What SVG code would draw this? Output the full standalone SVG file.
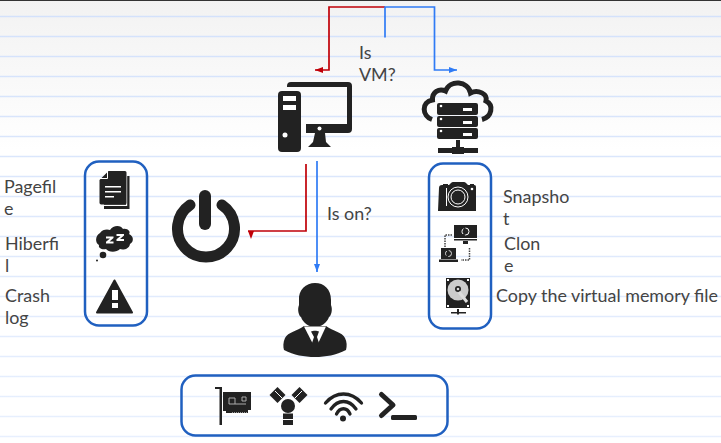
<svg xmlns="http://www.w3.org/2000/svg" width="721" height="443" viewBox="0 0 721 443">
<style>
text{font-family:"Lato","Carlito","Liberation Sans",sans-serif;font-size:17.900px;fill:#444}
.rule{stroke:url(#rg);stroke-width:1.500}
.box{fill:none;stroke:#2060c0;stroke-width:2.500}
.i{fill:#222}
.w{fill:#fff}
.ln{fill:none;stroke-width:1.700}
.r{stroke:#c00008}
.b{stroke:#2f7bf5}
</style>
<defs>
<linearGradient id="bg" x1="0" y1="0" x2="0" y2="1"><stop offset="0" stop-color="#f2f2f2"/><stop offset="1" stop-color="#fff"/></linearGradient>
<linearGradient id="rg" gradientUnits="userSpaceOnUse" x1="0" y1="0" x2="0" y2="443"><stop offset="0" stop-color="#d3e1fb"/><stop offset="1" stop-color="#e8f0fe"/></linearGradient>
<marker id="ar" markerWidth="8" markerHeight="6" refX="8" refY="3" orient="auto" markerUnits="userSpaceOnUse"><path d="M0 0L8 3L0 6Z" fill="#c00008"/></marker>
<marker id="ard" markerWidth="8" markerHeight="6" refX="0" refY="6" orient="90" markerUnits="userSpaceOnUse"><path d="M0 0L8 3L0 6Z" fill="#c00008"/></marker>
<marker id="ab" markerWidth="8" markerHeight="6" refX="8" refY="3" orient="auto" markerUnits="userSpaceOnUse"><path d="M0 0L8 3L0 6Z" fill="#2f7bf5"/></marker>
</defs>
<rect width="721" height="443" fill="#fff"/>
<rect width="721" height="150" fill="url(#bg)"/>
<rect width="721" height="1" fill="#333"/>
<path class="rule" d="M0 16.500H721M0 36.500H721M0 56.500H721M0 76.500H721M0 96.500H721M0 116.500H721M0 136.500H721M0 156.500H721M0 176.500H721M0 196.500H721M0 216.500H721M0 236.500H721M0 256.500H721M0 276.500H721M0 296.500H721M0 316.500H721M0 336.500H721M0 356.500H721M0 376.500H721M0 396.500H721M0 416.500H721M0 436.500H721"/>

<g id="connectors">
<path class="ln r" d="M385 7H329V70H315" marker-end="url(#ar)"/>
<path class="ln b" d="M385 37.500V7H434.500V70H457" marker-end="url(#ab)"/>
<path class="ln r" d="M306 164V231H248" marker-end="url(#ard)"/>
<path class="ln b" d="M317 161V272" marker-end="url(#ab)"/>
</g>

<g id="node-vm-question"><text x="359" y="59">Is</text><text x="359" y="81">VM?</text></g>
<g id="node-ison-label"><text x="327" y="220">Is on?</text></g>

<g id="node-desktop">
<path class="i" d="M287 86a4 4 0 0 1 4-4H348a4 4 0 0 1 4 4V129a4 4 0 0 1-4 4H306V124H347V87H287Z"/>
<rect class="i" x="278" y="91" width="23" height="61" rx="4"/>
<rect class="w" x="283" y="96" width="13" height="5"/><rect class="w" x="283" y="105" width="13" height="5"/>
<circle class="w" cx="285" cy="135" r="2.500"/>
<circle class="w" cx="319.500" cy="128.500" r="2"/>
<path class="i" d="M315 133H325L326 142L331 147H308L313 142Z"/>
</g>

<g id="node-cloud">
<path fill="none" stroke="#222" stroke-width="5" d="M432 119.500C422 116 421 102 432.500 100C432 92 439 88 445.500 91C450 79 468 81 470.500 93C478 89 488 94 486 101C494 105 492 117 482 119.500"/>
<rect class="i" x="437" y="103" width="41" height="12" rx="2"/>
<rect class="i" x="437" y="116" width="41" height="11" rx="2"/>
<rect class="i" x="437" y="128" width="41" height="11" rx="2"/>
<path class="w" d="M463 108h9v3h-9ZM463 121h9v3h-9ZM463 133h9v3h-9Z"/>
<circle class="w" cx="441" cy="106" r="1.300"/><circle class="w" cx="441" cy="119" r="1.300"/><circle class="w" cx="441" cy="131" r="1.300"/>
<path class="i" d="M456 140h4v7h4v1h14v5h-14v1h-12v-1h-14v-5h14v-1h4Z"/>
</g>

<g id="node-power">
<path fill="none" stroke="#222" stroke-width="11" stroke-linecap="round" d="M190 205A28.500 28.500 0 1 0 222 205"/>
<rect class="i" x="199" y="190" width="12" height="40" rx="6"/>
</g>

<g id="node-left-box"><rect class="box" x="85" y="161.500" width="62" height="164" rx="14"/></g>
<g id="node-pagefile">
<text x="4" y="193">Pagefil</text><text x="4" y="215">e</text>
<path class="i" d="M110 176H129.500V209H104V204H110Z"/>
<path class="w" d="M126 174.500h1.200V206H103.500v-1.200H126Z"/>
<path class="i" d="M108.500 171H125a1.500 1.500 0 0 1 1.500 1.500V203a1.500 1.500 0 0 1-1.500 1.500H101a2 2 0 0 1-1.500-1.500V180Z"/>
<path class="w" d="M105 186h16v1.500h-16ZM105 191h16v1.500h-16ZM105 196h9v1.500h-9Z"/>
<path fill="none" stroke="#fff" stroke-width="1" d="M100 178.500h7.500V171"/>
</g>
<g id="node-hiberfil">
<text x="5" y="250">Hiberfi</text><text x="5" y="272">l</text>
<path class="i" d="M100 233C102 229 108 229 110 230C113 225 121 225 123 229C128 228 131 232 129 234C134 236 134 242 130 244C129 250 122 250 120 249C116 253 108 252 106 249C102 250 98 248 99 245C95 243 95 236 100 233Z"/>
<circle class="i" cx="103" cy="255" r="3.300"/><circle class="i" cx="97" cy="260.500" r="1"/>
<path class="w" d="M106 236.500h7.500v1.500l-4 3.500h4v2h-7.500v-1.700l4-3.400h-4ZM116.500 234h7.500v1.500l-4 3.500h4v2h-7.500v-1.700l4-3.400h-4Z"/>
</g>
<g id="node-crash">
<text x="5" y="302">Crash</text><text x="5" y="324">log</text>
<path class="i" d="M114.500 280.500L132 312.500H97Z" stroke="#222" stroke-width="2" stroke-linejoin="round"/>
<path class="w" d="M112 290h6v10h-6ZM112 303h6v5h-6Z"/>
</g>

<g id="node-right-box"><rect class="box" x="429" y="163.500" width="62" height="165" rx="14"/></g>
<g id="node-snapshot">
<text x="503" y="203">Snapsho</text><text x="503" y="225">t</text>
<path class="i" d="M439 188c0-2 1-3 3-3h1v-1h5v1h1l2-2c1-1 1-1 3-1h9c2 0 2 0 3 1l2 2h2v-1h4v1c2 0 2 1 2 3v23h-38Z"/>
<circle fill="none" stroke="#fff" stroke-width="1" cx="458" cy="197" r="10"/>
<circle fill="none" stroke="#fff" stroke-width="1" cx="458" cy="197" r="7"/>
<path class="w" d="M446 188h1v18h-1Z"/>
<circle class="w" cx="472" cy="189" r="1.300"/>
</g>
<g id="node-clone">
<text x="504" y="250">Clon</text><text x="504" y="272">e</text>
<rect class="i" x="454" y="225" width="23" height="13"/>
<path class="i" d="M454 239h23v1.500h-23ZM463 241h5v3h-5Z"/>
<circle fill="none" stroke="#fff" stroke-width="1" stroke-dasharray="6 2" cx="465.500" cy="231.500" r="3.500"/>
<rect class="i" x="441" y="248" width="15" height="11"/>
<path class="i" d="M439 259.500h19v2.500h-19Z"/>
<circle fill="none" stroke="#ddd" stroke-width="1" stroke-dasharray="5 2" cx="448.500" cy="253.500" r="3"/>
<path fill="none" stroke="#444" stroke-width="1.500" stroke-dasharray="1.500 1" d="M452 235H445V247M469.500 248V260H461"/>
</g>
<g id="node-vmem">
<text x="496" y="302">Copy the virtual memory file</text>
<rect class="i" x="446" y="278" width="24" height="30"/>
<circle fill="#ccc" cx="458" cy="290" r="10.500"/>
<circle class="i" cx="458" cy="289" r="3"/>
<circle fill="#ddd" cx="458" cy="289" r="1.300"/>
<path d="M459 292L467 302" stroke="#ddd" stroke-width="3"/>
<path class="w" d="M447 279h2v2h-2ZM467 279h2v2h-2ZM447 305h2v2h-2ZM467 305h2v2h-2Z"/>
<path class="i" d="M457 309h2v3h7v1.500h-7v1h-2v-1h-6V312h6Z"/>
</g>

<g id="node-user">
<path class="i" d="M315 283C324 283 331 289 331 300V305C333 310 331 316 329 317C327 323 321 327 315 327C309 327 303 323 301 317C299 316 297 310 299 305V300C298 290 306 283 315 283Z"/>
<path class="i" d="M304 326C297 331 288 332 285 338C283 342 283 347 284 350C294 355 304 357 315 357C326 357 336 355 346 350C347 346 347 342 345 338C342 332 333 331 326 326Z"/>
<path class="w" d="M304 326.500H326L315.500 349Z"/>
<path class="i" d="M311 331.500C313 330.500 317 330.500 319 331.500L317 337L320 346L315.500 352L311 346L314 337Z"/>
</g>

<g id="node-bottom-box"><rect class="box" x="181.500" y="375.500" width="266" height="60" rx="14"/></g>
<g id="node-nic">
<path class="i" d="M215 387H222V425H219.500V389H215Z"/>
<path class="i" d="M223 392H251V410H248V413H226V411H223Z"/>
<path fill="none" stroke="#aaa" stroke-width="1" d="M229 398h6v6h-6ZM242 397h4v4h-4ZM235 404h11"/>
<path fill="none" stroke="#999" stroke-width="1" stroke-dasharray="1 1" d="M232 412.500H248"/>
</g>
<g id="node-firewire">
<path class="i" d="M277.500 387L285.500 395L277.500 403L269.500 395ZM299.500 387L307.500 395L299.500 403L291.500 395Z"/>
<path stroke="#fff" stroke-width="1" d="M275 391L282 398M302 391L295 398"/>
<circle class="i" cx="288" cy="406" r="7"/>
<rect class="i" x="283" y="413.500" width="10" height="5.500"/><rect class="i" x="283" y="420" width="10" height="5"/>
</g>
<g id="node-wifi">
<path fill="none" stroke="#222" stroke-width="3.300" stroke-linecap="round" d="M325.500 403C336 391 351 391 361.500 403M331 409C338 399 349 399 356 409M336.500 414C340 407 347 407 350 414"/>
<circle class="i" cx="343" cy="418.500" r="3"/>
</g>
<g id="node-terminal">
<path fill="none" stroke="#222" stroke-width="5" stroke-linecap="round" stroke-linejoin="round" d="M381.500 394.500L393 405L381.500 415.500"/>
<rect class="i" x="391" y="415" width="26" height="5" rx="1.500"/>
</g>
</svg>
